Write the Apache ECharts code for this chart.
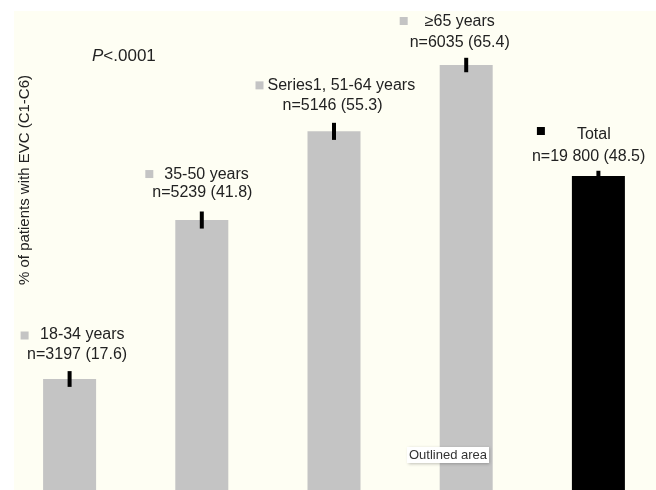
<!DOCTYPE html>
<html>
<head>
<meta charset="utf-8">
<script src="https://cdn.jsdelivr.net/npm/echarts@6/dist/echarts.min.js"></script>
<style>
  html, body { margin: 0; padding: 0; background: #fff; overflow: hidden; width: 656px; height: 490px; }
  #chart { width: 665px; height: 495px; }
</style>
</head>
<body>
<div id="chart"></div>
<script>
// data
const groups = ["18-34 years", "35-50 years", "Series1, 51-64 years", "\u226565 years", "Total"];
const counts = ["3197", "5239", "5146", "6035", "19 800"];
const percents = [17.6, 41.8, 55.3, 65.4, 48.5];
const errors = [1.2, 1.3, 1.3, 1.1, 0.8];
const isTotal = [false, false, false, false, true];

// label placement relative to bar top (px), [dx, dy]
const markerOff = [[-45, -43.5], [-52.5, -46], [-74.5, -46], [-62.5, -44], [-57.5, -45]];
const line1Off = [[-29.5, -44], [-37.5, -45], [-66.5, -46], [-41.5, -43.3], [-21.5, -41]];
const line2Off = [[-42.5, -24], [-49.5, -27], [-51.5, -25.5], [-56.5, -22.5], [-66.5, -19.3]];

const GRAY = "#c4c4c4";
const FONT = "'Liberation Sans', Arial, Helvetica, sans-serif";
const TEXT = "#222";

const chart = echarts.init(document.getElementById("chart"));

const option = {
  animation: false,
  backgroundColor: "#fff",
  // plot runs a little past the visible page, the source figure is cropped
  grid: { left: 3.5, right: 0.5, top: 34.8, bottom: 0.4 },
  xAxis: { type: "category", data: groups, show: false },
  yAxis: { type: "value", min: 0, max: 70, show: false },
  graphic: [
    {
      type: "rect", z: -10, silent: true,
      shape: { x: 14, y: 11, width: 660, height: 490 },
      style: { fill: "#fefef3" }
    },
    {
      type: "text", left: 92, top: 48,
      style: {
        text: "{i|P}<.0001",
        rich: { i: { fontStyle: "italic", fontSize: 17, fontFamily: FONT, fill: TEXT } },
        fontSize: 17, fontFamily: FONT, fill: TEXT
      }
    },
    {
      type: "text", x: 25, y: 180, rotation: Math.PI / 2,
      style: {
        text: "% of patients with EVC (C1-C6)",
        fontSize: 15, fontFamily: FONT, fill: TEXT,
        align: "center", verticalAlign: "middle"
      }
    },
    {
      type: "text", left: 407, top: 447, z: 20,
      style: {
        text: "Outlined area",
        fontSize: 13, fontFamily: FONT, fill: "#333",
        backgroundColor: "#fff", padding: [2, 2, 1, 2],
        shadowBlur: 3, shadowColor: "rgba(0,0,0,0.25)", shadowOffsetX: 1, shadowOffsetY: 1
      }
    }
  ],
  series: [
    {
      type: "bar",
      barWidth: 53,
      data: percents.map((v, i) => ({
        value: v,
        itemStyle: { color: isTotal[i] ? "#000" : GRAY }
      })),
      z: 2
    },
    {
      type: "custom",
      z: 3,
      data: percents.map((v, i) => [i, v, errors[i]]),
      renderItem: (params, api) => {
        const i = api.value(0);
        const top = api.coord([i, api.value(1) + api.value(2)]);
        const bot = api.coord([i, api.value(1) - api.value(2)]);
        return {
          type: "line",
          shape: { x1: top[0], y1: top[1], x2: bot[0], y2: bot[1] },
          style: { stroke: "#000", lineWidth: 4 }
        };
      }
    },
    {
      type: "custom",
      z: 4,
      data: percents.map((v, i) => [i, v]),
      renderItem: (params, api) => {
        const i = params.dataIndex;
        const p = api.coord([api.value(0), api.value(1)]);
        const m = markerOff[i], a = line1Off[i], b = line2Off[i];
        return {
          type: "group",
          children: [
            {
              type: "rect",
              shape: { x: p[0] + m[0] - 4, y: p[1] + m[1] - 4, width: 8, height: 8 },
              style: { fill: isTotal[i] ? "#000" : GRAY }
            },
            {
              type: "text",
              x: p[0] + a[0], y: p[1] + a[1],
              style: {
                text: groups[i], fontSize: 16, fontFamily: FONT, fill: TEXT,
                align: "left", verticalAlign: "middle"
              }
            },
            {
              type: "text",
              x: p[0] + b[0], y: p[1] + b[1],
              style: {
                text: "n=" + counts[i] + " (" + percents[i].toFixed(1) + ")",
                fontSize: 16, fontFamily: FONT, fill: TEXT,
                align: "left", verticalAlign: "middle"
              }
            }
          ]
        };
      }
    }
  ]
};

chart.setOption(option);
</script>
</body>
</html>
